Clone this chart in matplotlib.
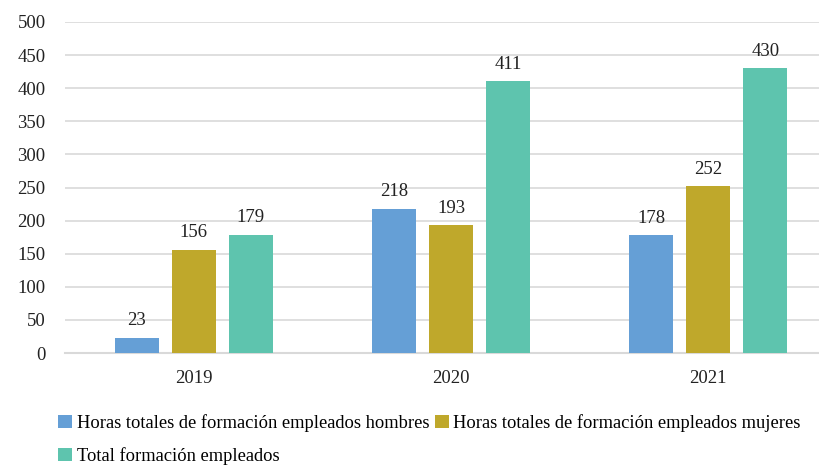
import numpy as np
import matplotlib
matplotlib.use("Agg")
import matplotlib.pyplot as plt

plt.rcParams['font.family'] = ['Liberation Serif', 'DejaVu Serif']

years = ["2019", "2020", "2021"]
series_names = [
    "Horas totales de formación empleados hombres",
    "Horas totales de formación empleados mujeres",
    "Total formación empleados",
]
hombres = [23, 218, 178]
mujeres = [156, 193, 252]
total = [179, 411, 430]
colors = ["#659fd6", "#bfa82b", "#5ec4ae"]

fig = plt.figure(figsize=(8.19, 4.67), dpi=100)
# right edge runs past the figure, like the original
ax = fig.add_axes([0.0794, 0.2441, 0.9426, 0.7088])

x = np.arange(len(years))
width = 0.171
step = 0.2214
handles = []
for i, (vals, name, c) in enumerate(zip([hombres, mujeres, total], series_names, colors)):
    bars = ax.bar(x + (i - 1) * step, vals, width, color=c, label=name, zorder=3)
    handles.append(bars)
    for xb, v in zip(x + (i - 1) * step, vals):
        ax.annotate(str(v), (xb, v), xytext=(0, 6), textcoords="offset points",
                    ha="center", va="bottom", fontsize=13.5, color="#222222")

ax.set_xlim(-0.5, 2.5)
ax.set_ylim(0, 500)
ax.set_yticks(range(0, 501, 50))
ax.set_xticks(x)
ax.set_xticklabels(years)
ax.yaxis.grid(True, color="#d9d9d9", linewidth=1.2, zorder=0)
ax.set_axisbelow(True)
for s in ["top", "right", "left"]:
    ax.spines[s].set_visible(False)
ax.spines["bottom"].set_color("#d9d9d9")
ax.spines["bottom"].set_linewidth(1.5)
ax.tick_params(axis="both", length=0, labelsize=13.5, colors="#222222")
ax.tick_params(axis="y", pad=14)
ax.tick_params(axis="x", pad=12)

# row-major order for the two-column legend
order = [0, 2, 1]
fig.legend([handles[k] for k in order], [series_names[k] for k in order],
           loc="upper left", bbox_to_anchor=(0.071, 0.113), ncol=2,
           frameon=False, fontsize=13.3, handlelength=0.75, handleheight=0.75,
           handletextpad=0.25, columnspacing=0.3, labelspacing=0.8,
           borderaxespad=0, borderpad=0)

fig.savefig("out.png", dpi=100)
